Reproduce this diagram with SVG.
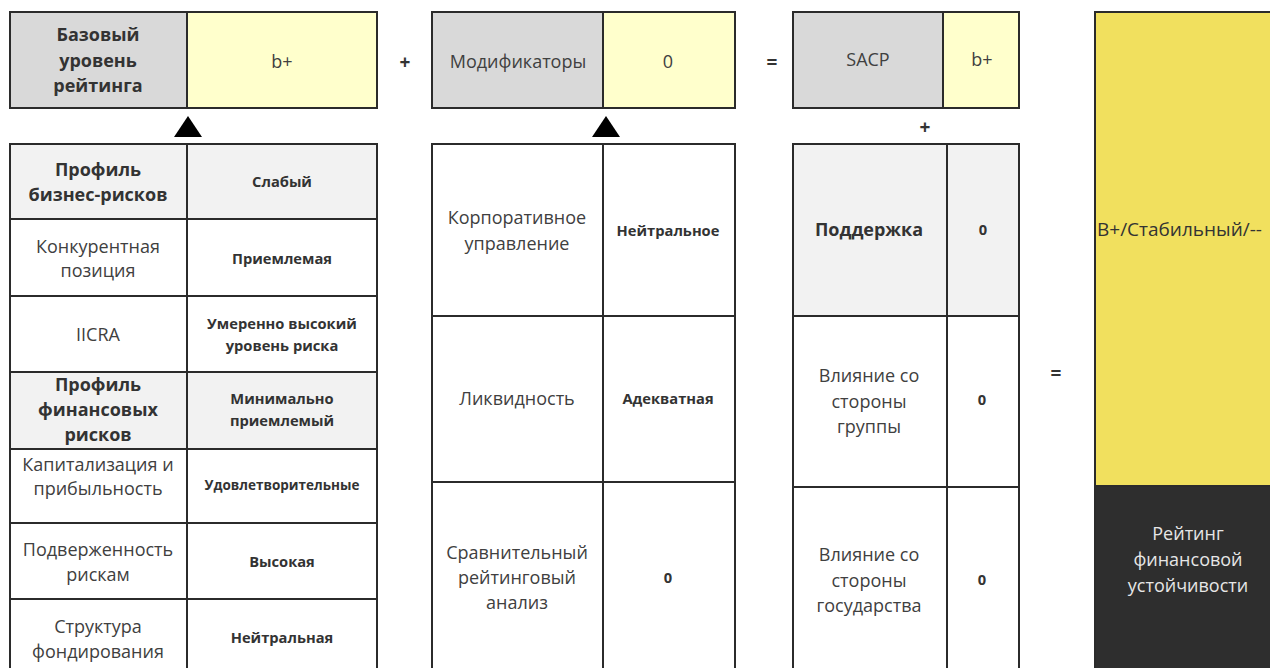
<svg xmlns="http://www.w3.org/2000/svg" width="1270" height="668" viewBox="0 0 1270 668">
<style>
text{font-family:"Open Sans","Noto Sans","DejaVu Sans",sans-serif;text-anchor:middle;dominant-baseline:central}
.cell{stroke:#2b2b2b;stroke-width:2}
.g{fill:#D9D9D9}
.y{fill:#FFFFCC}
.w{fill:#FFFFFF}
.h{fill:#F2F2F2}
.t{font-size:18px;fill:#404040}
.tb{font-size:18px;font-weight:bold;fill:#333333}
.v{font-size:14.7px;font-weight:bold;fill:#333333}
.vs{font-size:13.5px;font-weight:bold;fill:#333333}
.op{font-size:19px;font-weight:bold;fill:#333333}
</style>
<rect width="1270" height="668" fill="#FFFFFF"/>

<g id="base">
<rect class="cell g" x="10" y="12" width="177" height="96"/>
<rect class="cell y" x="187" y="12" width="190" height="96"/>
<text class="tb" x="98"><tspan x="98" y="34">Базовый</tspan><tspan x="98" y="60">уровень</tspan><tspan x="98" y="85">рейтинга</tspan></text>
<text class="t" x="282" y="61">b+</text>
</g>

<g id="modifiers">
<rect class="cell g" x="432" y="12" width="171" height="96"/>
<rect class="cell y" x="603" y="12" width="132" height="96"/>
<text class="t" x="518" y="61">Модификаторы</text>
<text class="t" x="668" y="61">0</text>
</g>

<g id="sacp">
<rect class="cell g" x="793" y="12" width="150" height="96"/>
<rect class="cell y" x="943" y="12" width="76" height="96"/>
<text class="t" x="868" y="59">SACP</text>
<text class="t" x="982" y="59">b+</text>
</g>

<g id="operators">
<text class="op" x="405" y="62">+</text>
<text class="op" x="772" y="62">=</text>
<text class="op" x="925" y="127">+</text>
<text class="op" x="1056" y="373">=</text>
<polygon points="188,116 202,137 174,137" fill="#000"/>
<polygon points="606,116 620,137 592,137" fill="#000"/>
</g>

<g id="business-table">
<rect class="cell h" x="10" y="144" width="177" height="75"/>
<rect class="cell h" x="187" y="144" width="190" height="75"/>
<rect class="cell w" x="10" y="219" width="177" height="77"/>
<rect class="cell w" x="187" y="219" width="190" height="77"/>
<rect class="cell w" x="10" y="296" width="177" height="76"/>
<rect class="cell w" x="187" y="296" width="190" height="76"/>
<rect class="cell h" x="10" y="372" width="177" height="77"/>
<rect class="cell h" x="187" y="372" width="190" height="77"/>
<rect class="cell w" x="10" y="449" width="177" height="74"/>
<rect class="cell w" x="187" y="449" width="190" height="74"/>
<rect class="cell w" x="10" y="523" width="177" height="76"/>
<rect class="cell w" x="187" y="523" width="190" height="76"/>
<rect class="cell w" x="10" y="599" width="177" height="90"/>
<rect class="cell w" x="187" y="599" width="190" height="90"/>
<text class="tb"><tspan x="98" y="169">Профиль</tspan><tspan x="98" y="194">бизнес-рисков</tspan></text>
<text class="v" x="282" y="181">Слабый</text>
<text class="t"><tspan x="98" y="246">Конкурентная</tspan><tspan x="98" y="270">позиция</tspan></text>
<text class="v" x="282" y="258">Приемлемая</text>
<text class="t" x="98" y="334">IICRA</text>
<text class="v"><tspan x="282" y="323">Умеренно высокий</tspan><tspan x="282" y="345">уровень риска</tspan></text>
<text class="tb"><tspan x="98" y="384">Профиль</tspan><tspan x="98" y="409">финансовых</tspan><tspan x="98" y="434">рисков</tspan></text>
<text class="v"><tspan x="282" y="398">Минимально</tspan><tspan x="282" y="420">приемлемый</tspan></text>
<text class="t"><tspan x="98" y="464">Капитализация и</tspan><tspan x="98" y="488">прибыльность</tspan></text>
<text class="vs" x="282" y="485">Удовлетворительные</text>
<text class="t"><tspan x="98" y="549">Подверженность</tspan><tspan x="98" y="574">рискам</tspan></text>
<text class="v" x="282" y="561">Высокая</text>
<text class="t"><tspan x="98" y="626">Структура</tspan><tspan x="98" y="651">фондирования</tspan></text>
<text class="v" x="282" y="637">Нейтральная</text>
</g>

<g id="modifier-table">
<rect class="cell w" x="432" y="144" width="171" height="172"/>
<rect class="cell w" x="603" y="144" width="132" height="172"/>
<rect class="cell w" x="432" y="316" width="171" height="166"/>
<rect class="cell w" x="603" y="316" width="132" height="166"/>
<rect class="cell w" x="432" y="482" width="171" height="210"/>
<rect class="cell w" x="603" y="482" width="132" height="210"/>
<text class="t"><tspan x="517" y="217">Корпоративное</tspan><tspan x="517" y="243">управление</tspan></text>
<text class="v" x="668" y="230">Нейтральное</text>
<text class="t" x="517" y="398">Ликвидность</text>
<text class="v" x="668" y="398">Адекватная</text>
<text class="t"><tspan x="517" y="552">Сравнительный</tspan><tspan x="517" y="577">рейтинговый</tspan><tspan x="517" y="602">анализ</tspan></text>
<text class="v" x="668" y="577">0</text>
</g>

<g id="support-table">
<rect class="cell h" x="793" y="144" width="154" height="172"/>
<rect class="cell h" x="947" y="144" width="72" height="172"/>
<rect class="cell w" x="793" y="316" width="154" height="171"/>
<rect class="cell w" x="947" y="316" width="72" height="171"/>
<rect class="cell w" x="793" y="487" width="154" height="210"/>
<rect class="cell w" x="947" y="487" width="72" height="210"/>
<text class="tb" x="869" y="229">Поддержка</text>
<text class="v" x="983" y="229">0</text>
<text class="t"><tspan x="869" y="375">Влияние со</tspan><tspan x="869" y="401">стороны</tspan><tspan x="869" y="426">группы</tspan></text>
<text class="v" x="982" y="399">0</text>
<text class="t"><tspan x="869" y="554">Влияние со</tspan><tspan x="869" y="580">стороны</tspan><tspan x="869" y="605">государства</tspan></text>
<text class="v" x="982" y="579">0</text>
</g>

<g id="result">
<rect x="1095" y="12" width="200" height="474" fill="#F1E05E" stroke="#2b2b2b" stroke-width="2"/>
<rect x="1095" y="486" width="200" height="210" fill="#2E2E2E" stroke="#2b2b2b" stroke-width="2"/>
<text class="t" x="1097" y="229" style="text-anchor:start;fill:#333333;font-size:19px">B+/Стабильный/--</text>
<text class="t" style="fill:#E6E6E6"><tspan x="1188" y="533">Рейтинг</tspan><tspan x="1188" y="559">финансовой</tspan><tspan x="1188" y="585">устойчивости</tspan></text>
</g>
</svg>
